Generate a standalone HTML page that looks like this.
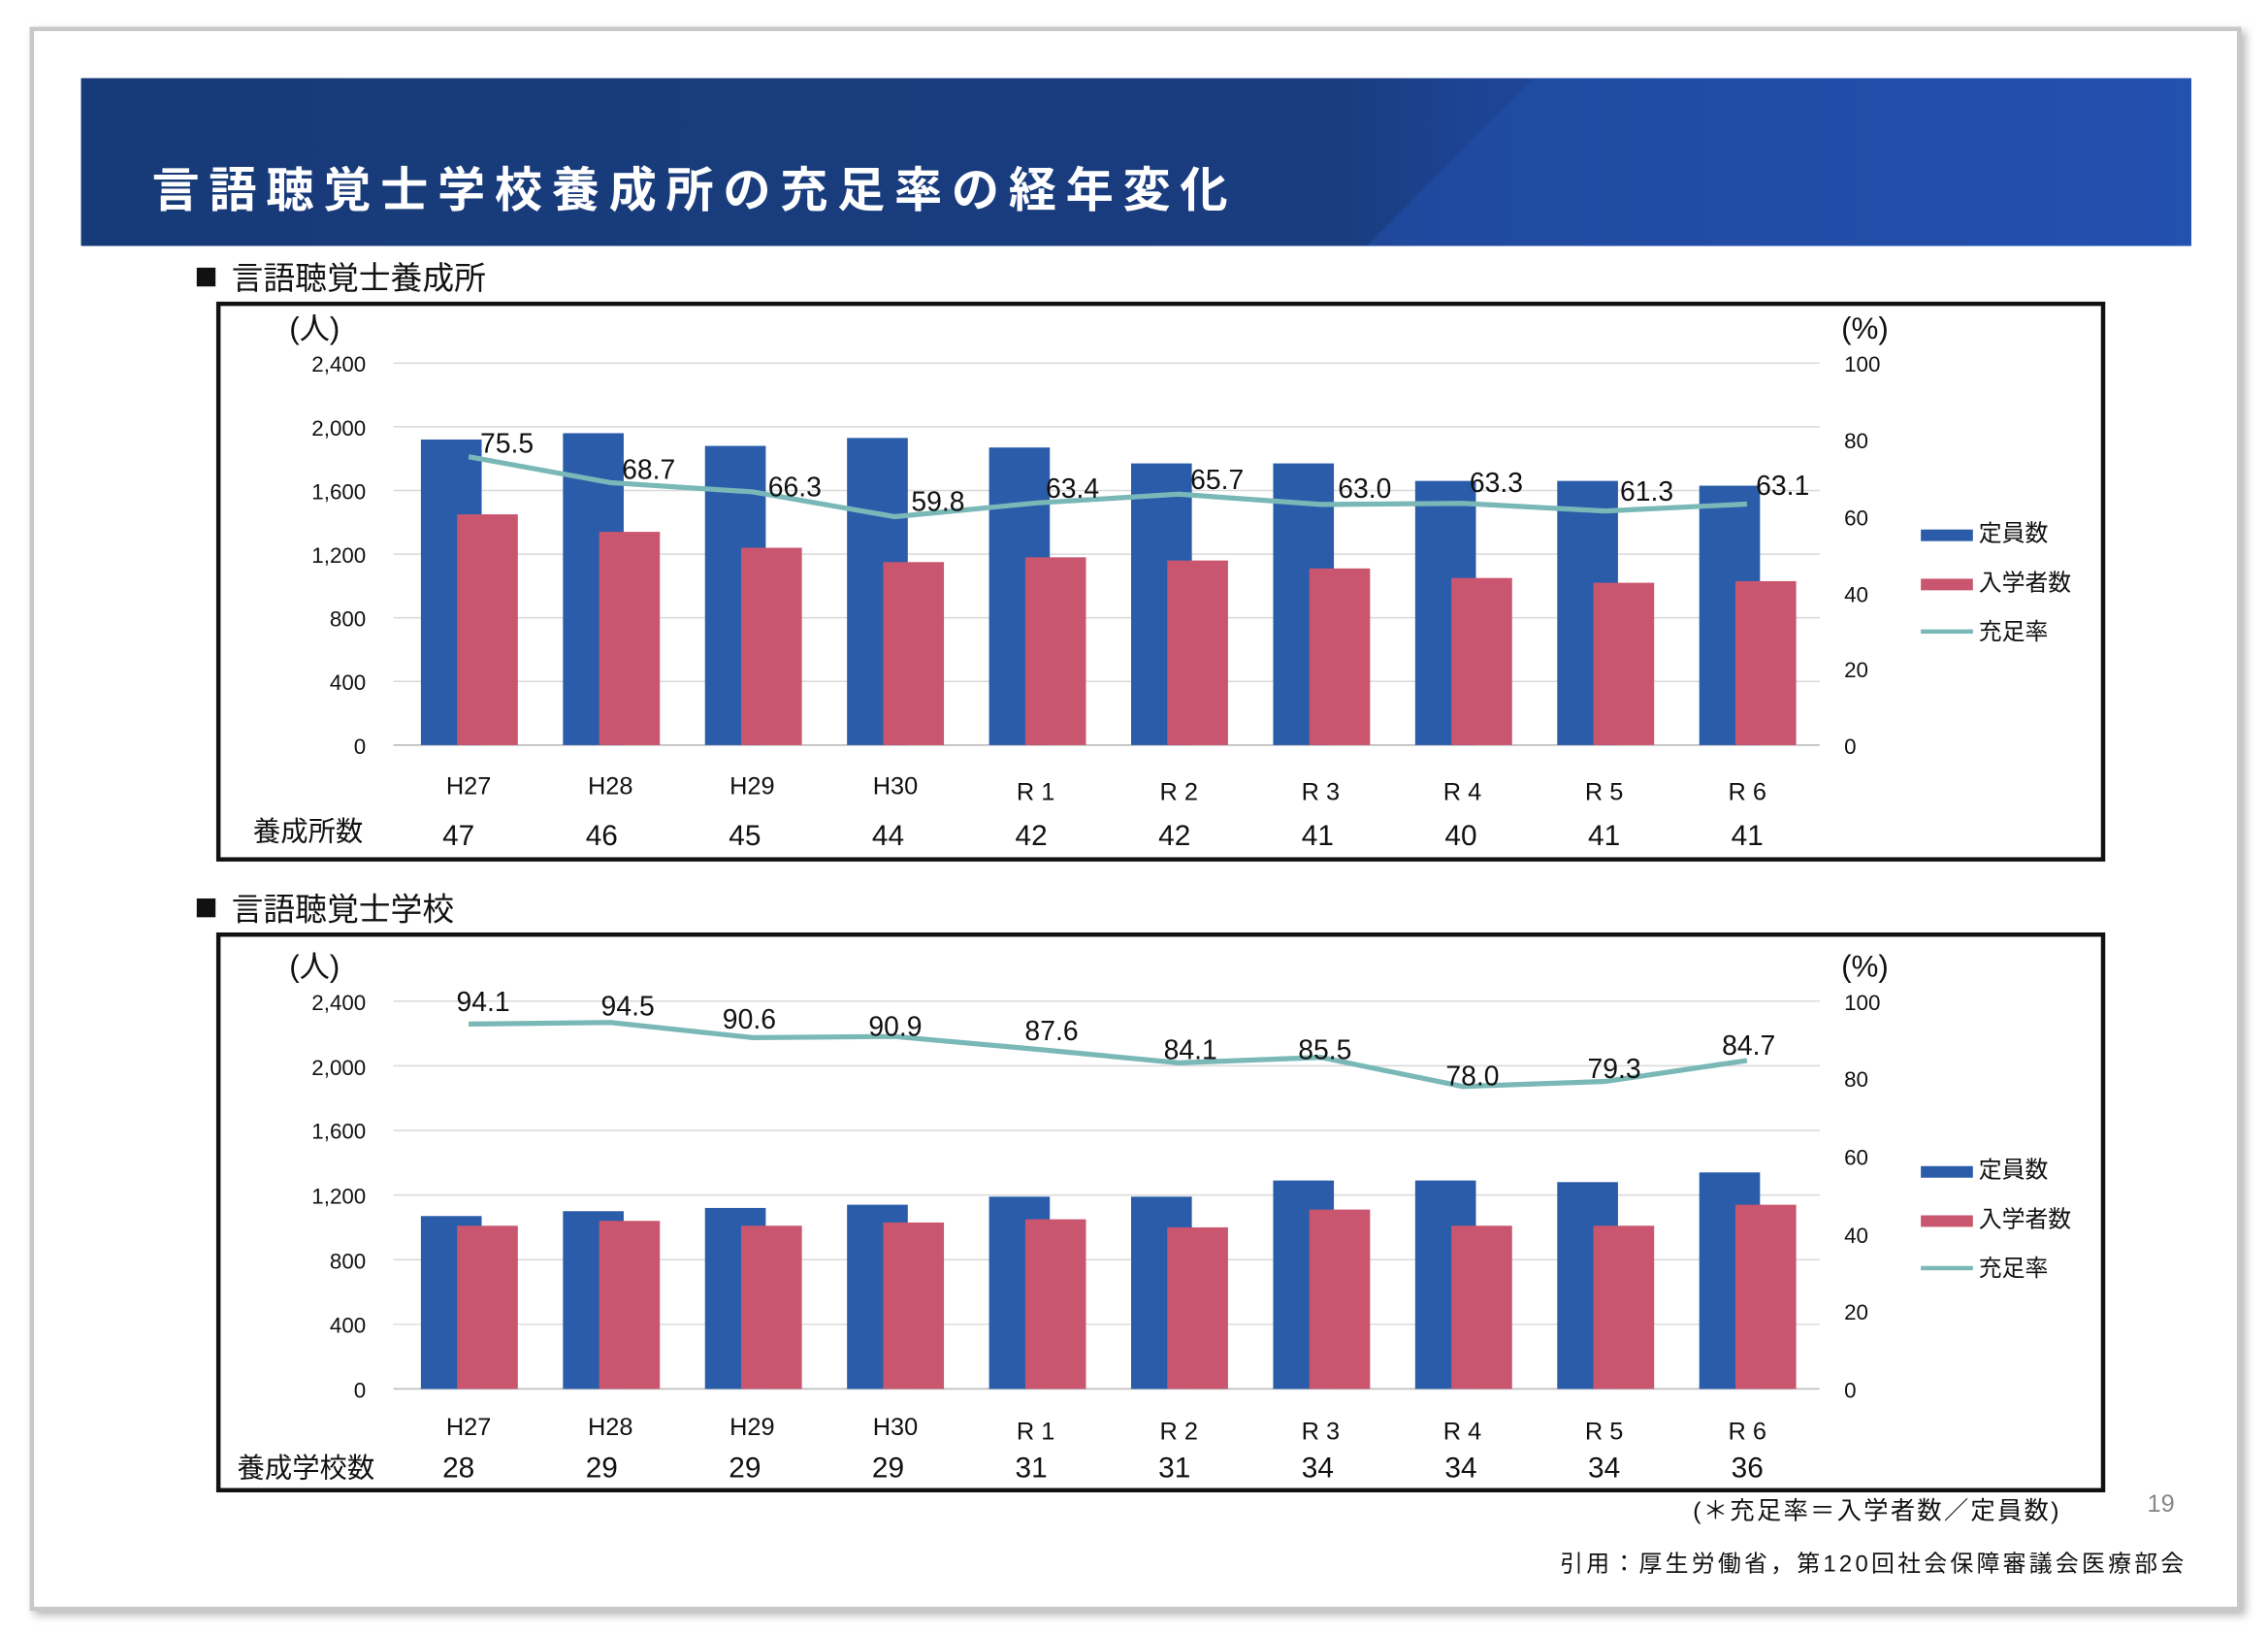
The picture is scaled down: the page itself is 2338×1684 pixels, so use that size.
<!DOCTYPE html>
<html><head><meta charset="utf-8"><style>
html,body{margin:0;padding:0;background:#fff}
svg{display:block}
text{font-family:"Liberation Sans","Noto Sans CJK JP",sans-serif;fill:#111}
</style></head><body>
<svg id="s" width="2338" height="1684" viewBox="0 0 1568 1129.4" xmlns="http://www.w3.org/2000/svg">
<defs>
<linearGradient id="hg" x1="0" y1="0" x2="1" y2="0">
<stop offset="0" stop-color="#173a78"/><stop offset="0.6" stop-color="#1a3d80"/><stop offset="0.66" stop-color="#1d4494"/><stop offset="1" stop-color="#2552b0"/>
</linearGradient>
<filter id="sh"><feDropShadow dx="3" dy="3" stdDeviation="3" flood-color="#888" flood-opacity="0.6"/></filter>
</defs>
<rect x="22" y="20" width="1526" height="1092" fill="#fff" stroke="#c8c8c8" stroke-width="3" filter="url(#sh)"/>
<rect x="56" y="54" width="1459" height="116" fill="url(#hg)"/>
<polygon points="1060,54 1515,54 1515,170 945,170" fill="#2250ad" opacity="0.55"/>
<text x="105" y="143" font-size="33" font-weight="bold" style="fill:#fff" letter-spacing="6.5">言語聴覚士学校養成所の充足率の経年変化</text>

<rect x="136" y="185" width="13" height="13" fill="#111"/>
<text x="160" y="200" font-size="22">言語聴覚士養成所</text>
<rect x="151" y="210" width="1303" height="384" fill="none" stroke="#111" stroke-width="3"/>
<text x="200" y="234" font-size="21">(人)</text>
<text x="1273" y="234" font-size="21">(%)</text>
<g font-size="15" text-anchor="end">
<text x="253" y="257">2,400</text><text x="253" y="301">2,000</text><text x="253" y="345">1,600</text><text x="253" y="389">1,200</text><text x="253" y="433">800</text><text x="253" y="477">400</text><text x="253" y="521">0</text>
</g>
<g font-size="15">
<text x="1275" y="257">100</text><text x="1275" y="310">80</text><text x="1275" y="363">60</text><text x="1275" y="416">40</text><text x="1275" y="468">20</text><text x="1275" y="521">0</text>
</g>
<g id="c1"></g>
<g font-size="19">
<text x="332" y="313">75.5</text><text x="430" y="331">68.7</text><text x="531" y="343">66.3</text><text x="630" y="353">59.8</text><text x="723" y="344">63.4</text><text x="823" y="338">65.7</text><text x="925" y="344">63.0</text><text x="1016" y="340">63.3</text><text x="1120" y="346">61.3</text><text x="1214" y="342">63.1</text>
</g>
<g font-size="17" text-anchor="middle">
<text x="324" y="549">H27</text><text x="422" y="549">H28</text><text x="520" y="549">H29</text><text x="619" y="549">H30</text><text x="716" y="553">R 1</text><text x="815" y="553">R 2</text><text x="913" y="553">R 3</text><text x="1011" y="553">R 4</text><text x="1109" y="553">R 5</text><text x="1208" y="553">R 6</text>
</g>
<g font-size="20" text-anchor="middle">
<text x="317" y="584">47</text><text x="416" y="584">46</text><text x="515" y="584">45</text><text x="614" y="584">44</text><text x="713" y="584">42</text><text x="812" y="584">42</text><text x="911" y="584">41</text><text x="1010" y="584">40</text><text x="1109" y="584">41</text><text x="1208" y="584">41</text>
</g>
<text x="175" y="581" font-size="19">養成所数</text>
<rect x="1328" y="366" width="36" height="8" fill="#2a5caa"/><text x="1368" y="374" font-size="16">定員数</text>
<rect x="1328" y="400" width="36" height="8" fill="#c9566e"/><text x="1368" y="408" font-size="16">入学者数</text>
<rect x="1328" y="435" width="36" height="3" fill="#7ab8b8"/><text x="1368" y="442" font-size="16">充足率</text>

<rect x="136" y="621" width="13" height="13" fill="#111"/>
<text x="160" y="636" font-size="22">言語聴覚士学校</text>
<rect x="151" y="646" width="1303" height="384" fill="none" stroke="#111" stroke-width="3"/>
<text x="200" y="675" font-size="21">(人)</text>
<text x="1273" y="675" font-size="21">(%)</text>
<g font-size="15" text-anchor="end">
<text x="253" y="698">2,400</text><text x="253" y="743">2,000</text><text x="253" y="787">1,600</text><text x="253" y="832">1,200</text><text x="253" y="877">800</text><text x="253" y="921">400</text><text x="253" y="966">0</text>
</g>
<g font-size="15">
<text x="1275" y="698">100</text><text x="1275" y="751">80</text><text x="1275" y="805">60</text><text x="1275" y="859">40</text><text x="1275" y="912">20</text><text x="1275" y="966">0</text>
</g>
<g id="c2"></g>
<g font-size="19" text-anchor="middle">
<text x="334" y="699">94.1</text><text x="434" y="702">94.5</text><text x="518" y="711">90.6</text><text x="619" y="716">90.9</text><text x="727" y="719">87.6</text><text x="823" y="732">84.1</text><text x="916" y="732">85.5</text><text x="1018" y="750">78.0</text><text x="1116" y="745">79.3</text><text x="1209" y="729">84.7</text>
</g>
<g font-size="17" text-anchor="middle">
<text x="324" y="992">H27</text><text x="422" y="992">H28</text><text x="520" y="992">H29</text><text x="619" y="992">H30</text><text x="716" y="995">R 1</text><text x="815" y="995">R 2</text><text x="913" y="995">R 3</text><text x="1011" y="995">R 4</text><text x="1109" y="995">R 5</text><text x="1208" y="995">R 6</text>
</g>
<g font-size="20" text-anchor="middle">
<text x="317" y="1021">28</text><text x="416" y="1021">29</text><text x="515" y="1021">29</text><text x="614" y="1021">29</text><text x="713" y="1021">31</text><text x="812" y="1021">31</text><text x="911" y="1021">34</text><text x="1010" y="1021">34</text><text x="1109" y="1021">34</text><text x="1208" y="1021">36</text>
</g>
<text x="164" y="1021" font-size="19">養成学校数</text>
<rect x="1328" y="806" width="36" height="8" fill="#2a5caa"/><text x="1368" y="814" font-size="16">定員数</text>
<rect x="1328" y="840" width="36" height="8" fill="#c9566e"/><text x="1368" y="848" font-size="16">入学者数</text>
<rect x="1328" y="875" width="36" height="3" fill="#7ab8b8"/><text x="1368" y="882" font-size="16">充足率</text>

<text x="1425" y="1050" font-size="17" text-anchor="end" letter-spacing="1.5">(＊充足率＝入学者数／定員数)</text>
<text x="1494" y="1045" font-size="17" text-anchor="middle" style="fill:#888">19</text>
<text x="1512" y="1086" font-size="16" text-anchor="end" letter-spacing="2.2">引用：厚生労働省，第120回社会保障審議会医療部会</text>
</svg>
<script>
function chart(id,y0,k,kr,blue,red,rate){
 var g=document.getElementById(id),h="";
 for(var i=1;i<=6;i++){var y=y0-400*i*k;h+='<line x1="272" x2="1258" y1="'+y+'" y2="'+y+'" stroke="#d9d9d9" stroke-width="1"/>';}
 h+='<line x1="272" x2="1258" y1="'+y0+'" y2="'+y0+'" stroke="#bfbfbf" stroke-width="1.2"/>';
 var pts=[];
 for(var i=0;i<10;i++){var c=324+98.2*i;
  h+='<rect x="'+(c-33)+'" y="'+(y0-blue[i]*k)+'" width="42" height="'+(blue[i]*k)+'" fill="#2a5caa"/>';
  h+='<rect x="'+(c-8)+'" y="'+(y0-red[i]*k)+'" width="42" height="'+(red[i]*k)+'" fill="#c9566e"/>';
  pts.push(c+','+(y0-rate[i]*kr));}
 h+='<polyline points="'+pts.join(' ')+'" fill="none" stroke="#7ab8b8" stroke-width="3.5"/>';
 g.innerHTML=h;
}
chart("c1",515,0.11,2.64,[1920,1960,1880,1930,1870,1770,1770,1660,1660,1630],[1450,1340,1240,1150,1180,1160,1110,1050,1020,1030],[75.5,68.7,66.3,59.8,63.4,65.7,63.0,63.3,61.3,63.1]);
chart("c2",960,0.11167,2.68,[1070,1100,1120,1140,1190,1190,1290,1290,1280,1340],[1010,1040,1010,1030,1050,1000,1110,1010,1010,1140],[94.1,94.5,90.6,90.9,87.6,84.1,85.5,78.0,79.3,84.7]);
</script>
</body></html>
